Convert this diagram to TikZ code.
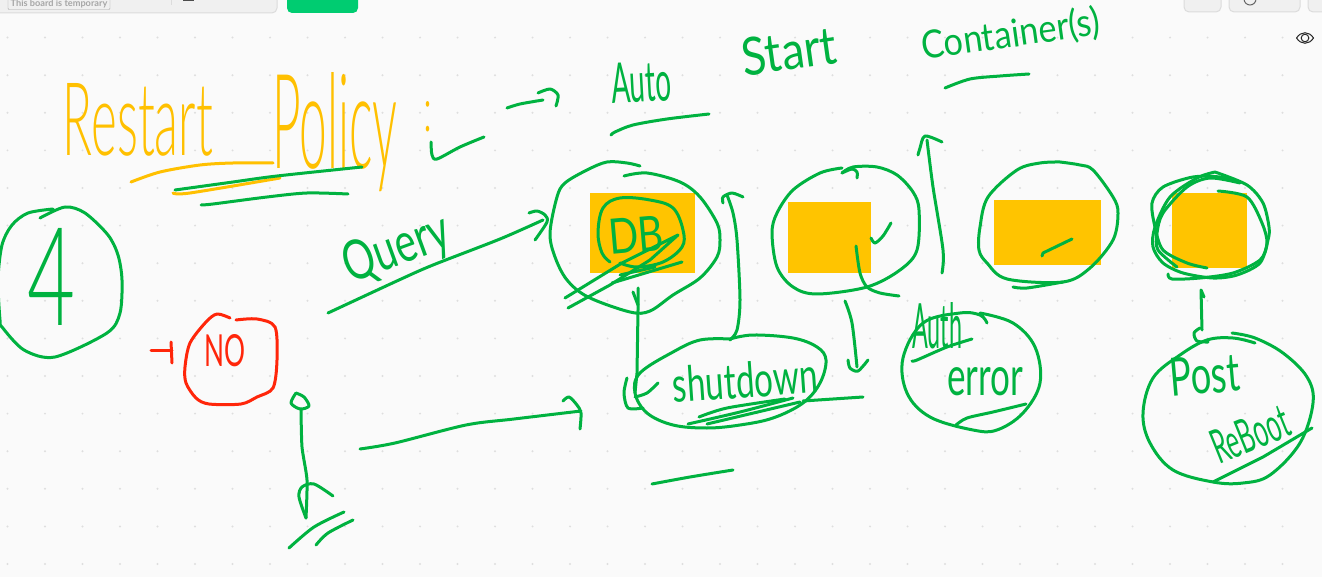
\documentclass[tikz,border=0pt]{standalone}
\usepackage{xcolor}
\usepackage{graphicx}
\usepackage{fontspec}
\setmainfont{Lato Light}
\newfontfamily\boardfont{Lato}
\usetikzlibrary{positioning}
\definecolor{inkgreen}{RGB}{0, 178, 64}
\definecolor{inkyellow}{RGB}{255, 192, 0}
\definecolor{inkred}{RGB}{255, 38, 10}
\definecolor{boxyellow}{RGB}{255, 196, 0}
\definecolor{boardbg}{RGB}{250, 250, 250}
\definecolor{griddot}{RGB}{222, 222, 222}
\definecolor{barfill}{RGB}{240, 240, 240}
\definecolor{barline}{RGB}{220, 220, 220}
\definecolor{btngreen}{RGB}{0, 204, 113}
\newcommand{\fitword}[3]{\resizebox{#1pt}{#2pt}{#3}}

\begin{document}
\begin{tikzpicture}[x=1pt, y=-1pt,
    pen/.style={draw=inkgreen, line width=3pt, line cap=round, line join=round},
    penyellow/.style={pen, draw=inkyellow},
    penred/.style={pen, draw=inkred},
    bigword/.style={inner sep=0pt, text=inkgreen},
    word/.style={bigword, font=\boardfont},
    crate/.style={fill=boxyellow, draw=none},
    barbtn/.style={fill=barfill, draw=barline, line width=1pt, rounded corners=5pt}]

    \path[use as bounding box] (0,0) rectangle (1322,577);
    \clip (0,0) rectangle (1322,577);
    \fill[boardbg] (0,0) rectangle (1322,577);

    % Dot grid
    \foreach \gx in {0,...,34}
      \foreach \gy in {1,...,15}
        \fill[griddot] ({7.5+37.5*\gx},{37.6*\gy}) circle (1.1pt);

    % Toolbar
    \path[barbtn] (-8,-8) rectangle (277,13);
    \node[draw=black!35, rounded corners=1pt, inner sep=1pt, minimum width=102pt, minimum height=11pt,
          text=black!35] (tag) at (59,4) {\boardfont\bfseries\fontsize{9.2}{10}\selectfont This board is temporary};
    \draw[barline, line width=1pt] (171,-2) -- (171,5);
    \draw[black!70, line width=1pt] (183,-3) rectangle (193,1);
    \fill[btngreen, rounded corners=5pt] (287,-8) rectangle (358,13);
    \path[barbtn] (1184,-8) rectangle (1221,12);
    \path[barbtn] (1229,-8) rectangle (1300,12);
    \path[barbtn] (1308,-8) rectangle (1340,12);
    \draw[black!60, line width=1pt] (1200,-1) -- (1211,-1);
    \draw[black!60, line width=1pt] (1250,-1) circle (6pt);
    \fill[black!2, rounded corners=5pt] (1290,23) rectangle (1320,53);
    \draw[black!85, line width=1pt] (1296.5,38) .. controls (1301,31) and (1309,31) .. (1313.5,38)
        .. controls (1309,45) and (1301,45) .. (1296.5,38);
    \draw[black!85, line width=1pt] (1305,38) circle (3.8pt);

    % Yellow boxes
    \fill[crate] (590,193) rectangle (695,273);
    \fill[crate] (788,202) rectangle (871,273);
    \fill[crate] (994,200) rectangle (1101,265);
    \fill[crate] (1172,193) rectangle (1247,268);

    % Title
    \node[bigword, text=inkyellow] (restart) at (138,120) {\fitword{150}{72}{Restart}};
    \node[bigword, text=inkyellow] (policy) at (335,132) {\fitword{125}{96}{Policy}};
    \node[bigword, text=inkyellow] (colon) at (428,117) {\fitword{9}{30}{:}};
    \draw[penyellow] plot[smooth] coordinates {(131,182) (160,172) (200,165) (233,163) (273,163)};
    \draw[penyellow] plot[smooth] coordinates {(173,193) (190,193) (280,178)};
    \draw[pen] plot[smooth] coordinates {(175,190) (233,182) (277,176) (362,167)};
    \draw[pen] plot[smooth] coordinates {(201,205) (213,204) (267,197) (307,193) (348,194)};
    \draw[pen] plot[smooth] coordinates {(431,142) (432,155) (437,159) (460,147) (484,137)};
    \draw[pen] plot[smooth] coordinates {(507,108) (520,104) (543,100)};
    \draw[pen] plot[smooth] coordinates {(538,93) (550,89) (558,95) (556,106)};

    % Auto start containers
    \node[word, rotate=3] (auto) at (641,82) {\fitword{60}{40}{Auto}};
    \node[word, rotate=8] (start) at (789,51) {\fitword{95}{38}{Start}};
    \node[word, rotate=8] (containers) at (1011,35) {\fitword{180}{30}{Container(s)}};
    \draw[pen] plot[smooth] coordinates {(611,135) (615,132) (633,125) (667,119) (709,114)};
    \draw[pen] plot[smooth] coordinates {(945,88) (970,79) (1000,76) (1029,74)};

    % Count circle
    \node[bigword] (four) at (52,277) {\fitword{48}{97}{4}};
    \draw[pen] plot[smooth] coordinates {(53,209) (28,213) (12,225) (2,245) (-2,280) (0,320) (2,327) (24,350) (55,357) (107,333) (120,313) (122,280)
        (118,255) (108,235) (85,213) (65,207) (40,218)};
    \node[word, text=inkred] (no) at (225,351) {\fitword{41}{32}{NO}};
    \draw[penred] plot[smooth, tension=.5] coordinates {(230,318) (217,314) (206,322) (190,343) (185,367) (186,383) (196,398) (209,404)
        (241,404) (257,397) (273,388) (277,360) (275,327) (257,319) (236,320)};
    \draw[penred] (151,350) -- (172,350);
    \draw[penred] (171,342) -- (172,363);

    % Query arrow
    \node[word, rotate=20] (query) at (397,250) {\fitword{110}{40}{Query}};
    \draw[pen] plot[smooth] coordinates {(328,313) (399,280) (433,265) (500,239) (543,220)};
    \draw[pen] plot[smooth] coordinates {(529,213) (537,211) (545,215) (547,222) (535,240)};

    % DB circle
    \draw[pen] plot[smooth, tension=.55] coordinates {(640,166) (627,163) (607,162) (587,170) (565,183) (557,197) (550,233) (555,257) (567,280)
        (588,297) (630,312) (650,311) (673,295) (700,278) (717,257) (720,240) (717,223) (700,197) (680,182) (647,173) (624,176)};
    \draw[pen] plot[smooth, tension=.6] coordinates {(610,262) (602,253) (598,233) (603,208) (620,198) (650,200) (673,208) (683,230) (682,247) (663,262) (637,267) (620,263)};
    \node[word, rotate=5] (db) at (636,235) {\fitword{55}{35}{DB}};
    \draw[pen] (565,298) -- (622,263) -- (678,235) -- (650,260) -- (610,285) -- (568,308);
    \draw[pen] (612,283) -- (682,262);
    \draw[pen] (620,275) -- (655,267);

    % Second circle
    \draw[pen] plot[smooth, tension=.55] coordinates {(842,173) (853,167) (877,167) (897,175) (913,192) (919,210) (917,250) (900,270) (867,287) (817,294)
        (793,287) (777,267) (772,233) (777,213) (793,190) (820,173) (842,168)};
    \draw[pen] plot[smooth] coordinates {(842,173) (852,169) (857,172) (857,178)};
    \draw[pen] plot[smooth] coordinates {(871,238) (875,243) (883,236) (891,223)};
    \draw[pen] plot[smooth] coordinates {(856,246) (860,273) (867,287) (880,293) (899,296)};

    % Third circle
    \draw[pen] plot[smooth, tension=.55] coordinates {(1060,162) (1040,163) (1017,170) (988,197) (980,227) (979,250) (987,263) (1007,279) (1063,282)
        (1090,268) (1113,240) (1118,213) (1113,197) (1093,170) (1080,165) (1060,162)};
    \draw[pen] plot[smooth] coordinates {(1013,287) (1027,288) (1063,282)};
    \draw[pen] (1042,256) -- (1043,253) -- (1072,239);

    % Fourth circle, gone over a few times
    \draw[pen] plot[smooth] coordinates {(1240,182) (1220,177) (1193,177) (1163,187) (1152,203) (1155,227) (1163,250) (1187,263) (1207,268)};
    \draw[pen] plot[smooth] coordinates {(1215,172) (1197,178) (1170,197) (1155,227) (1153,247) (1163,263) (1183,273) (1213,278) (1237,275) (1260,263)
        (1268,240) (1269,227) (1263,203) (1247,185) (1215,172)};
    \draw[pen] plot[smooth] coordinates {(1240,183) (1210,178) (1187,187) (1163,213) (1157,233) (1158,250) (1177,267)};
    \draw[pen] plot[smooth] coordinates {(1168,274) (1172,279) (1200,278) (1233,273) (1260,260) (1267,243) (1262,223) (1247,197) (1218,191)};

    % Shutdown
    \draw[pen] plot[smooth, tension=.6] coordinates {(730,339) (700,340) (673,352) (640,373) (635,393) (647,413) (673,425) (707,428) (740,425) (773,418)
        (803,403) (820,383) (826,360) (817,347) (793,338) (753,335) (730,339)};
    \node[word, rotate=4] (shutdown) at (745,380) {\fitword{145}{36}{shutdown}};
    \draw[pen] plot[smooth] coordinates {(699,417) (727,408) (785,399)};
    \draw[pen] plot[smooth] coordinates {(688,424) (740,412) (793,398)};
    \draw[pen] (707,424) -- (800,402);
    \draw[pen] (803,401) -- (863,397);
    \draw[pen] plot[smooth] coordinates {(652,484) (690,477) (733,470)};

    % Arrows round shutdown
    \draw[pen] (638,288) -- (638,310) -- (637,373) -- (635,393);
    \draw[pen] (633,292) -- (638,305);
    \draw[pen] plot[smooth] coordinates {(627,378) (624,393) (628,408) (643,408)};
    \draw[pen] plot[smooth] coordinates {(635,397) (647,393) (658,383)};
    \draw[pen] plot[smooth] coordinates {(730,340) (737,330) (740,300) (737,240) (733,213) (727,195)};
    \draw[pen] plot[smooth] coordinates {(723,203) (723,197) (732,193) (743,197)};
    \draw[pen] plot[smooth] coordinates {(845,301) (852,323) (857,367)};
    \draw[pen] plot[smooth] coordinates {(848,360) (850,368) (858,371) (868,360)};
    \draw[pen] plot[smooth] coordinates {(942,273) (943,250) (933,187) (927,140)};
    \draw[pen] plot[smooth] coordinates {(918,155) (920,148) (925,136) (942,142)};

    % Auth error
    \node[word] (auth) at (937,326) {\fitword{50}{46}{Auth}};
    \node[word] (error) at (985,382) {\fitword{76}{28}{error}};
    \draw[pen] plot[smooth, tension=.6] coordinates {(987,323) (980,315) (960,313) (923,323) (903,358) (907,393) (930,417) (973,430) (997,430) (1023,413)
        (1040,383) (1035,347) (1013,323) (980,313)};
    \draw[pen] plot[smooth] coordinates {(912,361) (917,360) (947,347) (972,339)};
    \draw[pen] plot[smooth] coordinates {(956,425) (967,418) (993,412) (1026,404)};

    % Post reboot
    \node[word, rotate=5] (post) at (1205,375) {\fitword{70}{38}{Post}};
    \node[word, rotate=22] (reboot) at (1250,434) {\fitword{80}{34}{ReBoot}};
    \draw[pen] plot[smooth, tension=.6] coordinates {(1255,343) (1233,338) (1207,340) (1180,355) (1153,378) (1143,413) (1150,443) (1173,470) (1213,482)
        (1243,483) (1270,475) (1300,443) (1313,403) (1307,377) (1283,353) (1255,338) (1232,333)};
    \draw[pen] (1213,482) -- (1263,457) -- (1312,428);
    \draw[pen] (1202,330) -- (1201,290) -- (1204,297);
    \draw[pen] plot[smooth] coordinates {(1200,328) (1194,333) (1197,341) (1208,342)};

    % Bottom stick and arrow
    \draw[pen] plot[smooth] coordinates {(296,393) (291,403) (300,409) (309,406) (304,397) (296,393)};
    \draw[pen] plot[smooth, tension=.4] coordinates {(301,409) (302,447) (307,480) (306,518)};
    \draw[pen] plot[smooth] coordinates {(306,518) (299,497) (302,487) (314,484) (333,496)};
    \draw[pen] plot[smooth] coordinates {(289,548) (314,527) (344,512)};
    \draw[pen] plot[smooth] coordinates {(316,545) (328,533) (353,520)};
    \draw[pen] plot[smooth] coordinates {(360,449) (395,443) (466,425) (514,419) (581,411)};
    \draw[pen] plot[smooth] coordinates {(563,401) (569,397) (577,405) (581,413) (580,429)};
\end{tikzpicture}
\end{document}
